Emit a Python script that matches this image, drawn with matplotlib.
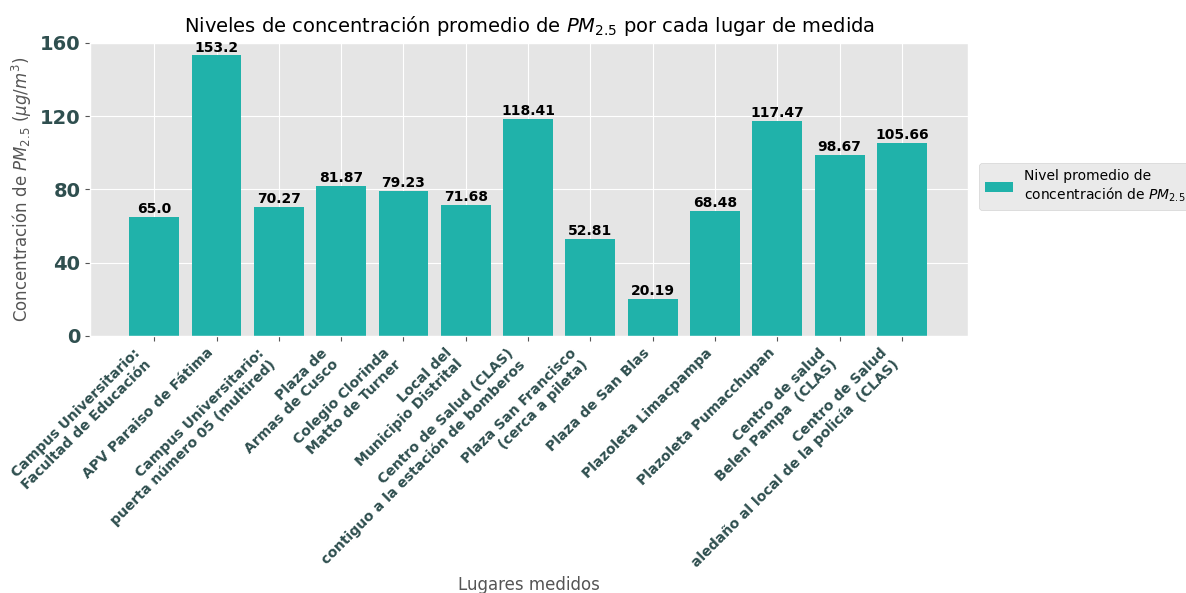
import matplotlib
matplotlib.use("Agg")
import matplotlib.pyplot as plt
import numpy as np

plt.style.use("ggplot")

lugares = [
    "Campus Universitario:\nFacultad de Educación",
    "APV Paraiso de Fátima",
    "Campus Universitario:\npuerta número 05 (multired)",
    "Plaza de\nArmas de Cusco",
    "Colegio Clorinda\nMatto de Turner",
    "Local del\nMunicipio Distrital",
    "Centro de Salud (CLAS)\ncontiguo a la estación de bomberos",
    "Plaza San Francisco\n(cerca a pileta)",
    "Plaza de San Blas",
    "Plazoleta Limacpampa",
    "Plazoleta Pumacchupan",
    "Centro de salud\nBelen Pampa  (CLAS)",
    "Centro de Salud\naledaño al local de la policía  (CLAS)",
]
valores = [65.0, 153.2, 70.27, 81.87, 79.23, 71.68, 118.41, 52.81, 20.19, 68.48, 117.47, 98.67, 105.66]
yticks = [0, 40, 80, 120, 160]

fig = plt.figure(figsize=(11.86, 5.93), dpi=100)
ax = fig.add_axes([0.0759, 0.4334, 0.7403, 0.4941])

x = np.arange(len(lugares))
bars = ax.bar(x, valores, width=0.8, color="#20B2AA",
              label="Nivel promedio de\nconcentración de $PM_{2.5}$")
for xi, v in zip(x, valores):
    ax.text(xi, v + 0.5, str(v), ha="center", va="bottom",
            fontsize=10, fontweight="bold", color="black")

ax.set_xlim(-1.03, 13.06)
ax.set_ylim(0, 160)
ax.set_yticks(yticks)
ax.set_yticklabels([str(t) for t in yticks], fontsize=14, fontweight="bold", color="#2F4F4F")
ax.set_xticks(x)
ax.set_xticklabels(lugares, rotation=45, ha="right", fontsize=10.1,
                   fontweight="bold", color="#2F4F4F")

ax.set_title("Niveles de concentración promedio de $PM_{2.5}$ por cada lugar de medida",
             fontsize=14, color="black", pad=8)
ax.set_ylabel("Concentración de $PM_{2.5}$ ($\\mu g/m^3$)", fontsize=12, color="#555555")
ax.set_xlabel("Lugares medidos", fontsize=12, color="#555555")

ax.legend(loc="center left", bbox_to_anchor=(1.005, 0.51), fontsize=10)

fig.savefig("out.png", dpi=100)
